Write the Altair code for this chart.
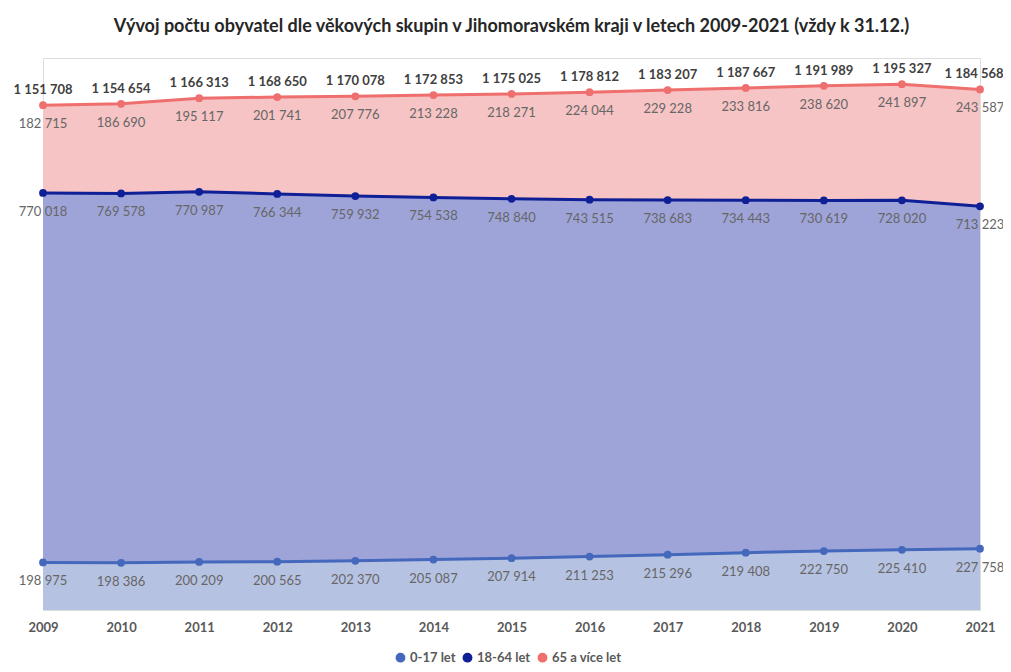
import altair as alt
import pandas as pd

years = [2009, 2010, 2011, 2012, 2013, 2014, 2015, 2016, 2017, 2018, 2019, 2020, 2021]
groups = ["0-17 let", "18-64 let", "65 a více let"]
age_0_17 = [198975, 198386, 200209, 200565, 202370, 205087, 207914, 211253, 215296, 219408, 222750, 225410, 227758]
age_18_64 = [770018, 769578, 770987, 766344, 759932, 754538, 748840, 743515, 738683, 734443, 730619, 728020, 713223]
age_65 = [182715, 186690, 195117, 201741, 207776, 213228, 218271, 224044, 229228, 233816, 238620, 241897, 243587]
totals = [1151708, 1154654, 1166313, 1168650, 1170078, 1172853, 1175025, 1178812, 1183207, 1187667, 1191989, 1195327, 1184568]

line_colors = ["#4468BC", "#0F1F96", "#EF6E6E"]
fill_colors = ["#B6C2E2", "#9EA4D8", "#F6C4C4"]

FONT = "Lato"


def fmt(v):
    return f"{v:,}".replace(",", " ")


rows = []
series = [age_0_17, age_18_64, age_65]
for i, y in enumerate(years):
    lower = 0
    for g, s in zip(groups, series):
        v = s[i]
        rows.append({"year": y, "group": g, "band": g, "value": v, "lower": lower,
                     "upper": lower + v, "label": fmt(v)})
        lower += v
df = pd.DataFrame(rows)
tot = pd.DataFrame({"year": years, "total": totals, "label": [fmt(t) for t in totals]})

x = alt.X("year:Q", scale=alt.Scale(domain=[2009, 2021], nice=False, zero=False),
          axis=alt.Axis(values=years, format="d", title=None, grid=False, domain=False,
                        ticks=False, labelFont=FONT, labelFontSize=13, labelFontWeight="bold",
                        labelColor="#595959", labelPadding=11, labelFlush=False))
yscale = alt.Scale(domain=[100000, 1250000], zero=False, nice=False)
y = alt.Y("upper:Q", scale=yscale, axis=None)

base = alt.Chart(df)

area = base.mark_area(clip=True, opacity=1).encode(
    x=x,
    y=y,
    y2="lower:Q",
    fill=alt.Fill("band:N", sort=groups, scale=alt.Scale(range=fill_colors), legend=None),
)

color = alt.Color("group:N", scale=alt.Scale(domain=groups, range=line_colors),
                  legend=alt.Legend(title=None, orient="none", direction="horizontal",
                                    legendX=351, legendY=593,
                                    symbolType="circle", symbolSize=70,
                                    labelFont=FONT, labelFontSize=13, labelFontWeight="bold",
                                    labelColor="#595959", columnPadding=4, labelOffset=3))

line = base.mark_line(strokeWidth=3).encode(x=x, y=y, color=color)

pts = base.mark_circle(size=60, opacity=1).encode(x=x, y=y, color=color)

vals = base.mark_text(dy=19, font=FONT, fontSize=13, color="#666666").encode(
    x=x, y=y, text="label:N")

tot_style = dict(dy=-15, font=FONT, fontSize=13, fontWeight="bold", color="#404040")
tots = alt.Chart(tot).transform_filter(alt.datum.year < 2021).mark_text(**tot_style).encode(
    x=x, y=alt.Y("total:Q", scale=yscale, axis=None), text="label:N")
tots_last = alt.Chart(tot).transform_filter(alt.datum.year == 2021).mark_text(dx=-6, **tot_style).encode(
    x=x, y=alt.Y("total:Q", scale=yscale, axis=None), text="label:N")

chart = alt.layer(area, line, pts, vals, tots, tots_last).properties(
    width=937, height=552,
    title=alt.TitleParams(
        "Vývoj počtu obyvatel dle věkových skupin v Jihomoravském kraji v letech 2009-2021 (vždy k 31.12.)",
        font=FONT, fontSize=18, fontWeight="bold", color="#262626", anchor="middle", offset=22),
    autosize=alt.AutoSizeParams(type="none"),
    padding={"left": 35, "top": 50, "right": 23, "bottom": 60},
).configure_view(stroke=None).configure(background="white")

chart.save("out.html", embed_options={"renderer": "svg", "actions": False})
